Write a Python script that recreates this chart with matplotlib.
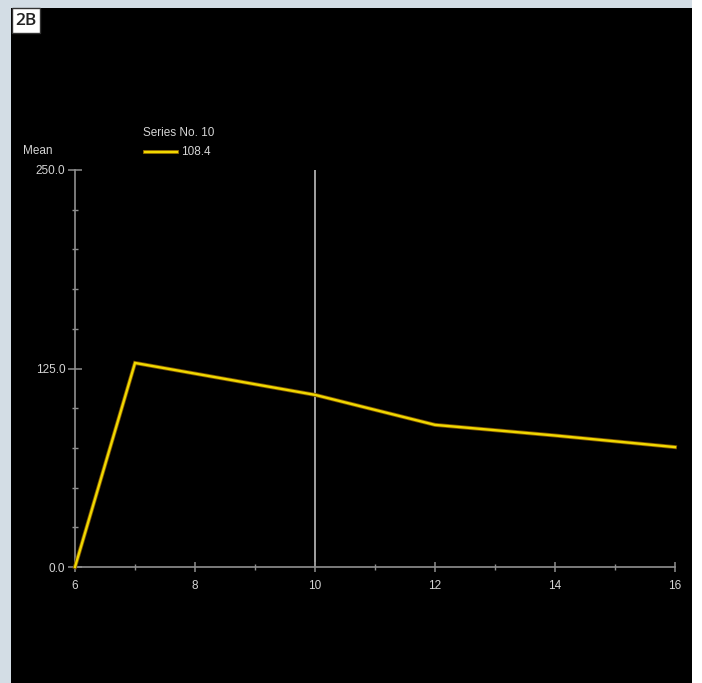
import matplotlib
matplotlib.use("Agg")
import matplotlib.pyplot as plt
from matplotlib.lines import Line2D
from matplotlib.patches import Rectangle
import matplotlib.patheffects as pe
from matplotlib.ticker import MultipleLocator, FixedLocator

x_vals = [6, 7, 10, 12, 14, 16]
mean_vals = [0.0, 128.5, 108.4, 89.5, 82.8, 75.5]
y_ticks = [0.0, 125.0, 250.0]
y_tick_labels = ["0.0", "125.0", "250.0"]
x_ticks = [6, 8, 10, 12, 14, 16]
cursor_x = 10
legend_title = "Series No. 10"
legend_value = "108.4"
panel_label = "2B"
y_label = "Mean"

W, H = 702, 683
fig = plt.figure(figsize=(W / 100, H / 100), dpi=100)
fig.patch.set_facecolor("#ffffff")
plt.rcParams['font.family'] = ['Liberation Sans', 'DejaVu Sans']

def fx(px):
    return px / W

def fy(py):
    return 1 - py / H

# outer light background and black panel
fig.add_artist(Rectangle((0, 0), fx(692), 1, transform=fig.transFigure,
                         facecolor="#d3dde5", edgecolor="none", zorder=-2))
fig.add_artist(Rectangle((fx(11), 0), fx(692 - 11), fy(8), transform=fig.transFigure,
                         facecolor="#000000", edgecolor="none", zorder=-1))

# panel label box
fig.add_artist(Rectangle((fx(12), fy(33)), fx(28), fy(8) - fy(33), transform=fig.transFigure,
                         facecolor="#ffffff", edgecolor="#333333", linewidth=1, zorder=2))
fig.text(fx(26), fy(21), panel_label, ha="center", va="center", fontsize=12.5,
         color="#222222", zorder=3, family=['Open Sans', 'DejaVu Sans'], fontweight="semibold")

ax = fig.add_axes([fx(75), fy(567), fx(675 - 75), fy(170) - fy(567)])
ax.set_zorder(1)
ax.set_facecolor("none")
ax.set_xlim(6, 16)
ax.set_ylim(0, 250)

axis_color = "#8f8f8f"
text_color = "#d4d4d4"
for s in ["top", "right"]:
    ax.spines[s].set_visible(False)
for s in ["left", "bottom"]:
    ax.spines[s].set_color(axis_color)
    ax.spines[s].set_linewidth(1.2)

ax.yaxis.set_major_locator(FixedLocator(y_ticks))
ax.set_yticklabels(y_tick_labels)
ax.yaxis.set_minor_locator(MultipleLocator(25))
ax.xaxis.set_major_locator(FixedLocator(x_ticks))
ax.set_xticklabels([str(v) for v in x_ticks])
ax.xaxis.set_minor_locator(MultipleLocator(1))

ax.tick_params(axis="y", which="major", direction="inout", length=10, width=1.1,
               color=axis_color, labelcolor=text_color, labelsize=8.5, pad=2)
ax.tick_params(axis="y", which="minor", direction="inout", length=5, width=1.0,
               color=axis_color)
ax.tick_params(axis="x", which="major", direction="inout", length=7, width=1.1,
               color=axis_color, labelcolor=text_color, labelsize=8.5, pad=6)
ax.tick_params(axis="x", which="minor", direction="inout", length=5, width=1.0,
               color=axis_color)

ax.axvline(cursor_x, color="#b0b0b0", linewidth=1.3, zorder=1)

ax.plot(x_vals, mean_vals, color="#f0d800", linewidth=1.7, zorder=3, clip_on=False,
        solid_joinstyle="miter",
        path_effects=[pe.Stroke(linewidth=2.9, foreground="#7a5200"), pe.Normal()])

fig.text(fx(23), fy(151), y_label, ha="left", va="center", fontsize=8.5, color=text_color)

# legend
fig.text(fx(143), fy(133), legend_title, ha="left", va="center", fontsize=8.5, color=text_color)
fig.add_artist(Line2D([fx(145), fx(177)], [fy(152), fy(152)], transform=fig.transFigure,
                      color="#f0d800", linewidth=1.7,
                      path_effects=[pe.Stroke(linewidth=2.9, foreground="#7a5200"), pe.Normal()]))
fig.text(fx(181), fy(152), legend_value, ha="left", va="center", fontsize=8.5, color=text_color)

fig.savefig("out.png", dpi=100, facecolor=fig.get_facecolor())
